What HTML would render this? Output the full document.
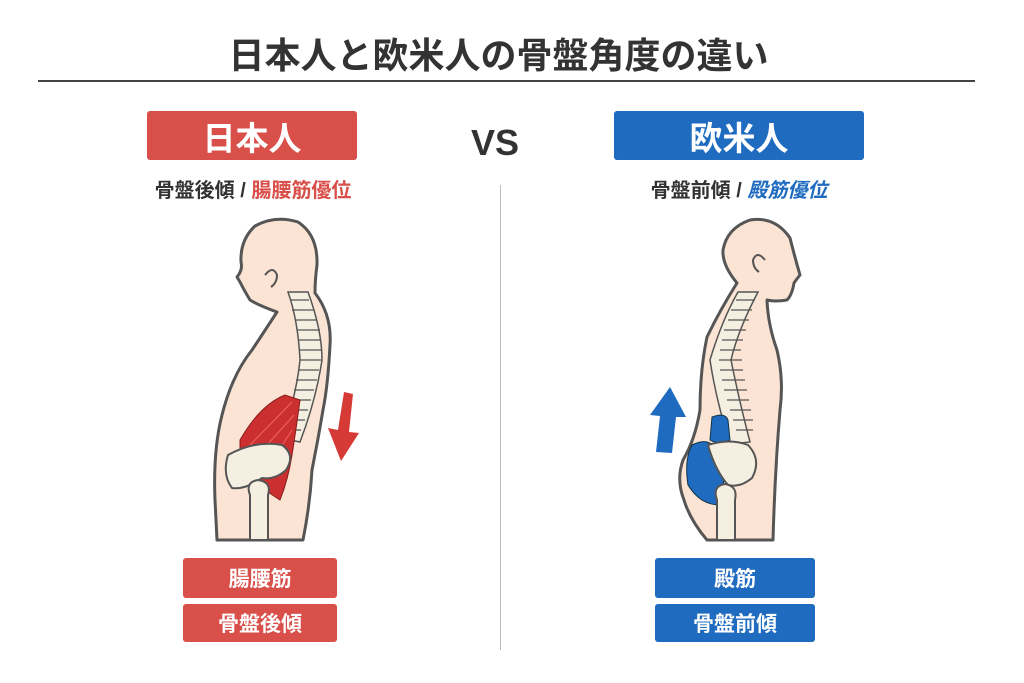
<!DOCTYPE html>
<html><head><meta charset="utf-8"><style>
body{margin:0;width:1024px;height:683px;background:#fff;position:relative;overflow:hidden;font-family:"Liberation Sans","Noto Sans CJK JP",sans-serif}
.t{position:absolute;white-space:nowrap;text-align:center}
.box{position:absolute;color:#fff;display:flex;align-items:center;justify-content:center;border-radius:3px;font-weight:bold}
</style></head><body>
<div class="t" style="left:0;width:997px;top:27px;font-size:36px;font-weight:bold;color:#333">日本人と欧米人の骨盤角度の違い</div>
<div style="position:absolute;left:38px;width:937px;top:80px;height:2px;background:#444"></div>
<div class="box" style="left:147px;top:111px;width:210px;height:49px;background:#d9504a;font-size:33px">日本人</div>
<div class="box" style="left:614px;top:111px;width:250px;height:49px;background:#1f6bc0;font-size:33px">欧米人</div>
<div class="t" style="left:455px;width:80px;top:122px;font-size:36px;font-weight:bold;color:#333">VS</div>
<div class="t" style="left:140px;width:226px;top:174px;font-size:20px;font-weight:bold;color:#333">骨盤後傾 / <span style="color:#d9504a">腸腰筋優位</span></div>
<div class="t" style="left:614px;width:250px;top:174px;font-size:20px;font-weight:bold;color:#333">骨盤前傾 / <span style="color:#1f6bc0;font-style:italic">殿筋優位</span></div>
<div style="position:absolute;left:500px;top:185px;width:1px;height:465px;background:#bbb"></div>
<div class="box" style="left:183px;top:558px;width:154px;height:40px;background:#d9504a;font-size:21px">腸腰筋</div>
<div class="box" style="left:183px;top:604px;width:154px;height:38px;background:#d9504a;font-size:21px">骨盤後傾</div>
<div class="box" style="left:655px;top:558px;width:160px;height:40px;background:#1f6bc0;font-size:21px">殿筋</div>
<div class="box" style="left:655px;top:604px;width:160px;height:38px;background:#1f6bc0;font-size:21px">骨盤前傾</div>
<svg width="1024" height="683" style="position:absolute;left:0;top:0">
<g stroke="#555" stroke-width="3" fill="#fbe4d4" stroke-linejoin="round">
<path d="M217,540 L215,500 Q213,450 222,415 Q232,375 252,350 Q262,335 277,312 Q258,305 250,300 Q244,290 240,282 L237,277 Q243,270 241,262 Q240,240 255,226 Q275,215 298,222 Q318,235 317,265 Q315,280 315,293 Q332,315 330,345 Q328,385 323,410 Q318,440 312,470 Q310,505 303,540 Z"/>
<path d="M707,540 Q690,520 684,500 Q676,480 683,460 Q695,440 700,410 Q700,370 707,337 Q720,310 737,283 Q722,265 723,250 Q727,228 750,220 Q775,216 790,238 Q795,258 800,275 Q796,280 794,283 Q792,295 787,300 Q775,302 767,300 Q768,325 777,350 Q784,380 780,410 Q775,470 773,540 Z"/>
</g>
<path d="M265,275 q8,-10 12,0 q0,8 -6,12" fill="none" stroke="#555" stroke-width="2"/>
<path d="M765,260 q-8,-10 -12,0 q0,8 6,12" fill="none" stroke="#555" stroke-width="2"/>
<g fill="#f4efe0" stroke="#555" stroke-width="1.5">
<path d="M288,292 L308,292 Q322,330 322,360 Q316,400 300,442 L280,438 Q296,400 300,360 Q298,320 288,292 Z"/>
<path d="M738,292 L758,292 Q738,330 731,360 Q739,400 750,442 L730,444 Q716,400 710,360 Q722,320 738,292 Z"/>
</g>
<g stroke="#555" stroke-width="1.2">
<path d="M290,300h19M292,310h22M295,320h22M297,330h23M298,340h23M299,350h22M300,360h21M298,370h21M296,380h21M294,390h20M292,400h19M290,410h18M287,420h18M284,430h17"/>
<path d="M736,300h19M731,310h21M728,320h21M724,330h22M722,340h21M720,350h21M719,360h23M720,370h23M722,380h23M724,390h23M727,400h22M730,410h21M733,420h20M736,430h17"/>
</g>
<path d="M240,440 Q260,405 285,395 L300,400 Q296,430 292,455 Q288,480 280,500 L268,492 Q250,470 240,455 Z" fill="#cc2f2f" stroke="#8a1b1b" stroke-width="1"/>
<path d="M250,445 L292,402 M258,455 L294,415 M266,470 L292,430" stroke="#e66" stroke-width="1"/>
<path d="M228,455 Q255,440 282,445 Q296,455 286,470 Q275,480 262,478 Q245,490 232,488 Q222,475 228,455 Z" fill="#f4efe0" stroke="#555" stroke-width="2"/>
<path d="M250,540 L250,495 Q245,482 258,480 Q272,482 268,495 L268,540 Z" fill="#f4efe0" stroke="#555" stroke-width="2"/>
<path d="M712,417 Q725,412 728,420 L730,440 Q718,445 710,440 Z" fill="#1f6bc0" stroke="#134" stroke-width="1"/>
<path d="M692,445 Q712,435 718,455 Q728,480 720,505 Q700,505 688,485 Q684,460 692,445 Z" fill="#1f6bc0" stroke="#134" stroke-width="1"/>
<path d="M708,445 Q730,438 748,445 Q762,460 752,478 Q740,488 728,485 Q715,470 708,445 Z" fill="#f4efe0" stroke="#555" stroke-width="2"/>
<path d="M717,540 L717,500 Q712,486 725,484 Q738,486 735,500 L735,540 Z" fill="#f4efe0" stroke="#555" stroke-width="2"/>
<path d="M344,392 L353,394 L349,432 L359,433 L341,461 L328,428 L338,430 Z" fill="#d63a36"/>
<path d="M656,452 L660,416 L650,415 L670,387 L686,417 L676,417 L672,453 Z" fill="#1f6bc0"/>
</svg>
</body></html>
